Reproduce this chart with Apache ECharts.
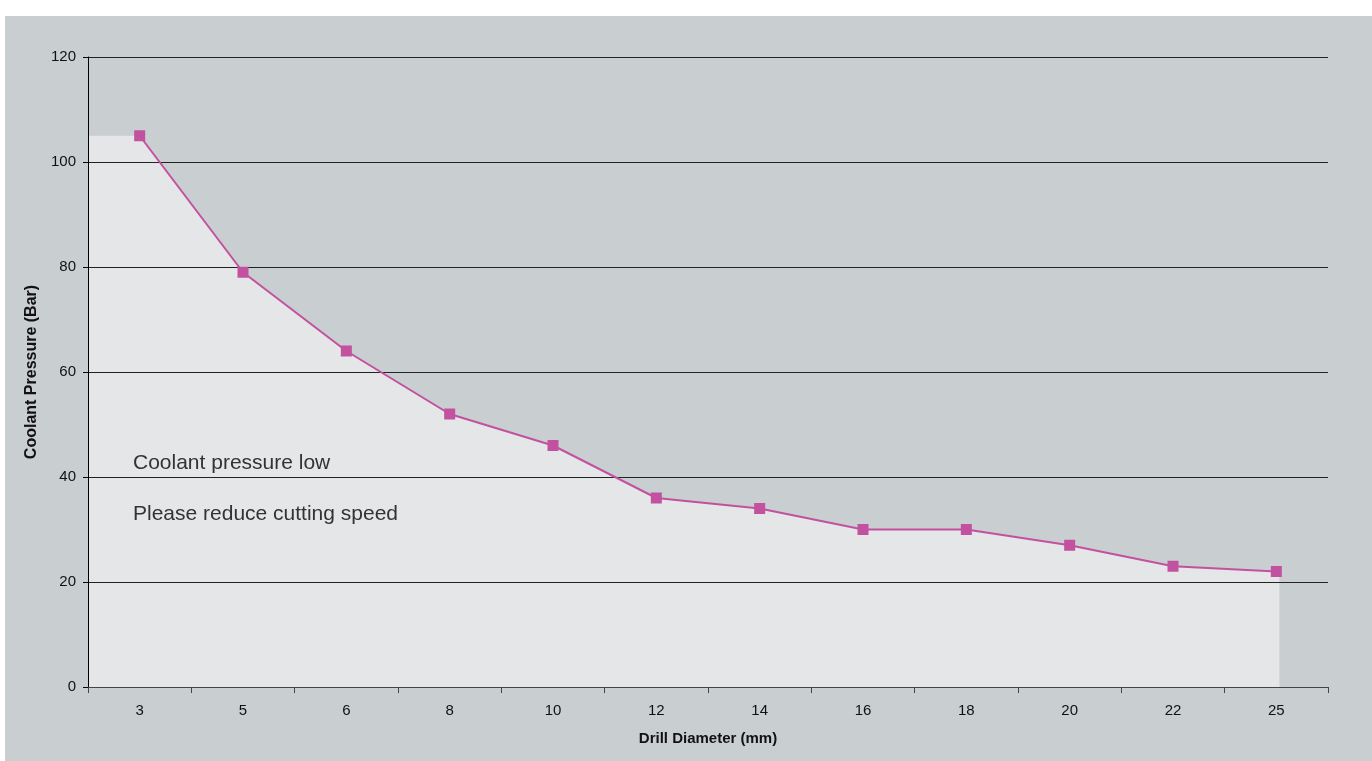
<!DOCTYPE html>
<html><head><meta charset="utf-8">
<script src="https://cdn.jsdelivr.net/npm/echarts@6/dist/echarts.min.js"></script>
<style>
html,body{margin:0;padding:0;background:#fff;}
#bg{position:absolute;left:5px;top:16px;width:1367px;height:745px;background:#c9ced1;}
#chart{position:absolute;left:0;top:0;width:1372px;height:761px;}
</style></head>
<body><div id="bg"></div><div id="chart"></div>
<script>
const categories = ['3','5','6','8','10','12','14','16','18','20','22','25'];
const pressure = [105, 79, 64, 52, 46, 36, 34, 30, 30, 27, 23, 22];
const yTicks = [0, 20, 40, 60, 80, 100, 120];
const notes = ['Coolant pressure low', 'Please reduce cutting speed'];

// Light "low pressure" region under the curve, on a hidden value axis aligned with categories
const areaData = [[0, pressure[0]]].concat(pressure.map((v, i) => [i + 0.5, v]))
  .concat([[pressure.length - 0.47, pressure[pressure.length - 1]]]);

const chart = echarts.init(document.getElementById('chart'));
const font = 'Liberation Sans, Arial, sans-serif';
chart.setOption({
  animation: false,
  textStyle: { fontFamily: font },
  grid: { left: 88, right: 44, top: 57, bottom: 74, containLabel: false },
  xAxis: [{
    type: 'category', data: categories, boundaryGap: true,
    name: 'Drill Diameter (mm)', nameLocation: 'middle', nameGap: 44,
    nameTextStyle: { fontWeight: 'bold', fontSize: 15, color: '#111', fontFamily: font },
    axisLine: { show: true, lineStyle: { color: '#444', width: 1 } },
    axisTick: { show: true, interval: 0, length: 6, lineStyle: { color: '#444' } },
    axisLabel: { fontSize: 15, color: '#111', margin: 16, fontFamily: font },
    splitLine: { show: false }, z: 2
  }, {
    type: 'value', min: 0, max: pressure.length, show: false
  }],
  yAxis: {
    type: 'value', min: 0, max: 120, interval: 20,
    name: 'Coolant Pressure (Bar)', nameLocation: 'middle', nameGap: 47, nameRotate: 90,
    nameTextStyle: { fontWeight: 'bold', fontSize: 16, color: '#111', fontFamily: font },
    axisLine: { show: true, lineStyle: { color: '#000', width: 1 } },
    axisTick: { show: true, length: 5, lineStyle: { color: '#000' } },
    axisLabel: { fontSize: 15, color: '#111', margin: 12, fontFamily: font,
      formatter: v => yTicks.includes(v) ? String(v) : '' },
    splitLine: { show: true, lineStyle: { color: '#222', width: 1 } }, z: 2
  },
  graphic: notes.map((t, i) => ({
    type: 'text', left: 133, top: 453 + i * 51, z: 10,
    style: { text: t, font: '21px ' + font, fill: '#333' }
  })),
  series: [{
    type: 'line', xAxisIndex: 1, data: areaData, symbol: 'none', z: 1,
    lineStyle: { width: 0, opacity: 0 }, areaStyle: { color: '#e5e6e8', opacity: 1 },
    silent: true
  }, {
    type: 'line', data: pressure, z: 5,
    symbol: 'rect', symbolSize: 11,
    itemStyle: { color: '#c2519f' },
    lineStyle: { color: '#c2519f', width: 2 }
  }]
});
</script></body></html>
